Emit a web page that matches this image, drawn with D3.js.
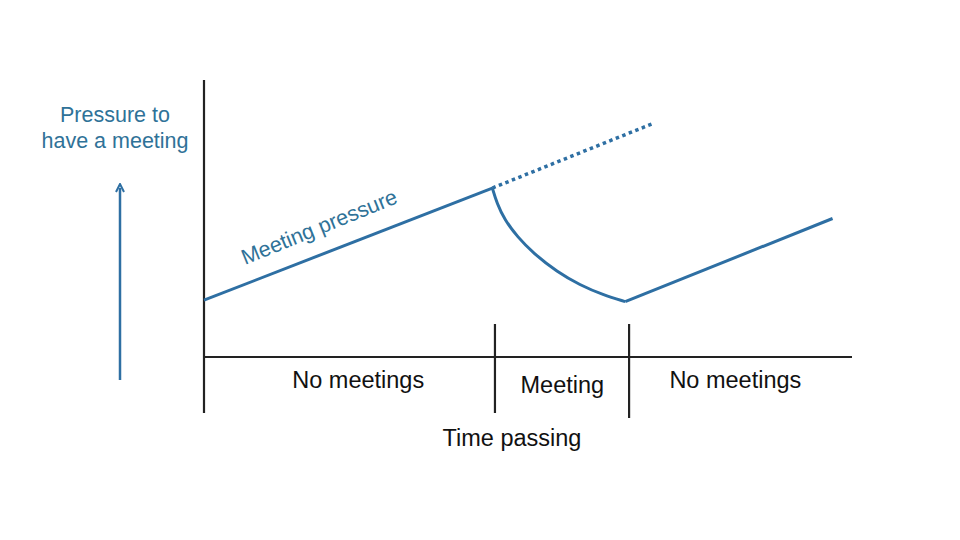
<!DOCTYPE html>
<html>
<head>
<meta charset="utf-8">
<script src="https://cdn.jsdelivr.net/npm/d3@7"></script>
<style>
  body { margin: 0; background: #fff; }
  text { font-family: "Liberation Sans", Arial, sans-serif; }
</style>
</head>
<body>
<svg id="chart" width="960" height="540"></svg>
<script>
// time runs 0..100, pressure 0..100
const buildUp = [{t: 0, p: 20.5}, {t: 44.5, p: 61}]
const projected = [{t: 44.5, p: 61}, {t: 69.5, p: 84.5}]
const meetingDecay = [
    {t: 44.5, p: 61}, {t: 45.2, p: 55.5}, {t: 46.4, p: 49.5},
    {t: 48.4, p: 43.3}, {t: 50.8, p: 37.5}, {t: 54.5, p: 30.7},
    {t: 58, p: 26}, {t: 61.6, p: 22.4}, {t: 65, p: 20}
]
const recovery = [{t: 65, p: 20}, {t: 97, p: 50}]
const phaseBounds = [44.9, 65.6]
const phases = [
    {label: 'No meetings', t: 23.8, dy: 31},
    {label: 'Meeting', t: 55.3, dy: 36},
    {label: 'No meetings', t: 82, dy: 31}
]

const blue = '#2e6fa3'
const textBlue = '#2f7298'

const svg = d3.select('#chart')

const x = d3.scaleLinear().domain([0, 100]).range([204, 852])
const y = d3.scaleLinear().domain([0, 100]).range([357, 80])

// axes
svg.append('line')
    .attr('x1', x(0)).attr('x2', x(0))
    .attr('y1', y(100)).attr('y2', 413)
    .attr('stroke', '#222').attr('stroke-width', 2.2)
svg.append('line')
    .attr('x1', x(0)).attr('x2', x(100))
    .attr('y1', y(0)).attr('y2', y(0))
    .attr('stroke', '#222').attr('stroke-width', 2.2)

svg.selectAll('line.phase')
    .data(phaseBounds)
  .enter().append('line')
    .attr('class', 'phase')
    .attr('x1', d => x(d)).attr('x2', d => x(d))
    .attr('y1', 324).attr('y2', (d, i) => i ? 418 : 413)
    .attr('stroke', '#222').attr('stroke-width', 2.2)

svg.selectAll('text.phase')
    .data(phases)
  .enter().append('text')
    .attr('class', 'phase')
    .attr('x', d => x(d.t))
    .attr('y', d => y(0) + d.dy)
    .attr('text-anchor', 'middle')
    .attr('font-size', 23.5)
    .attr('fill', '#111')
    .text(d => d.label)

svg.append('text')
    .attr('x', 512).attr('y', 446)
    .attr('text-anchor', 'middle')
    .attr('font-size', 23.5)
    .attr('fill', '#111')
    .text('Time passing')

// pressure lines
const line = d3.line().x(d => x(d.t)).y(d => y(d.p))

svg.append('path')
    .attr('d', line(buildUp))
    .attr('fill', 'none').attr('stroke', blue).attr('stroke-width', 3)
svg.append('path')
    .attr('d', line(projected))
    .attr('fill', 'none').attr('stroke', blue).attr('stroke-width', 3.5)
    .attr('stroke-dasharray', '3.5 3.5')
svg.append('path')
    .attr('d', d3.line().x(d => x(d.t)).y(d => y(d.p)).curve(d3.curveBasis)(meetingDecay))
    .attr('fill', 'none').attr('stroke', blue).attr('stroke-width', 3)
svg.append('path')
    .attr('d', line(recovery))
    .attr('fill', 'none').attr('stroke', blue).attr('stroke-width', 3)

// line label
const angle = Math.atan2(y(buildUp[1].p) - y(buildUp[0].p), x(buildUp[1].t) - x(buildUp[0].t)) * 180 / Math.PI
svg.append('text')
    .attr('transform', `translate(${x(18.2)},${y(44.5)}) rotate(${angle - 0.8})`)
    .attr('text-anchor', 'middle')
    .attr('font-size', 21.5)
    .attr('fill', textBlue)
    .text('Meeting pressure')

// y label and arrow
svg.append('text')
    .attr('x', 115).attr('y', 122)
    .attr('text-anchor', 'middle')
    .attr('font-size', 21.5)
    .attr('fill', textBlue)
    .selectAll('tspan')
    .data(['Pressure to', 'have a meeting'])
  .enter().append('tspan')
    .attr('x', 115)
    .attr('dy', (d, i) => i ? 25.5 : 0)
    .text(d => d)

svg.append('defs').append('marker')
    .attr('id', 'head')
    .attr('viewBox', '0 0 10 10')
    .attr('refX', 5).attr('refY', 5)
    .attr('markerWidth', 4).attr('markerHeight', 4)
    .attr('orient', 'auto')
  .append('path')
    .attr('d', 'M1,1 L9,5 L1,9')
    .attr('fill', 'none').attr('stroke', blue).attr('stroke-width', 2)

svg.append('line')
    .attr('x1', 120).attr('x2', 120)
    .attr('y1', 380).attr('y2', 188)
    .attr('stroke', blue).attr('stroke-width', 2.5)
    .attr('marker-end', 'url(#head)')
</script>
</body>
</html>
